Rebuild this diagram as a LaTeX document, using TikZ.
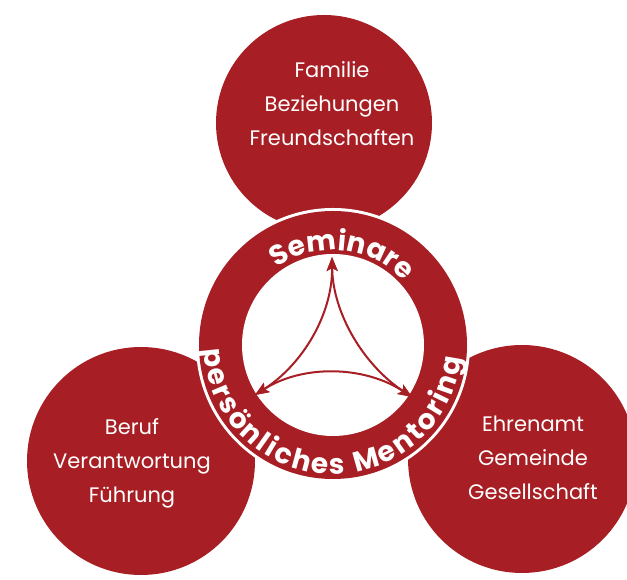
\documentclass[tikz,border=0pt]{standalone}
\usepackage{fontspec}
\setmainfont{Poppins}
\usetikzlibrary{calc,arrows.meta,decorations.text}
\definecolor{mred}{RGB}{167,31,36}
\tikzset{
  bigcirc/.style={circle, fill=mred, draw=none, inner sep=0pt},
  lbl/.style={text=white, align=center, font=\fontsize{21}{34}\selectfont},
  cur/.style={draw=mred, line width=2pt, {Stealth[length=14pt,width=11pt,inset=3pt]}-{Stealth[length=14pt,width=11pt,inset=3pt]}}
}
\newcommand{\ringfont}{\bfseries\fontsize{28}{28}\selectfont}
\begin{document}
\begin{tikzpicture}[x=1pt,y=1pt]
\useasboundingbox (0,0) rectangle (627,580);
% outer circles
\node[bigcirc, minimum size=216pt] (top) at (324,457) {};
\node[bigcirc, minimum size=228pt] (left) at (141,119) {};
\node[bigcirc, minimum size=228pt] (right) at (522,121) {};
% central ring
\coordinate (C) at (333,235);
\node[circle, fill=white, minimum size=274pt, inner sep=0pt] (ringb) at (C) {};
\node[circle, fill=mred, minimum size=268pt, inner sep=0pt] (ring) at (C) {};
\node[circle, fill=white, minimum size=182pt, inner sep=0pt] (inner) at (C) {};
% labels
\node[lbl] (tl) at (332,476) {Familie\\Beziehungen\\Freundschaften};
\node[lbl] (ll) at (132,117) {Beruf\\Verantwortung\\Führung};
\node[lbl] (rl) at (533,122) {Ehrenamt\\Gemeinde\\Gesellschaft};
% ring texts
\path[decorate, decoration={text along path, text={|\ringfont|Seminare|\ringfont\color{mred}|.}, text align=fit to path, text color=white}]
  ($(C)+(126:95pt)$) arc[start angle=126, end angle=47, radius=95pt];
\path[decorate, decoration={text along path, text={|\ringfont|persönliches Mentoring|\ringfont\color{mred}|.}, text align=fit to path, text color=white}]
  ($(C)+(182:129pt)$) arc[start angle=182, end angle=359, radius=129pt];
% arrows
\coordinate (T) at (332,323);
\coordinate (L) at (255,185);
\coordinate (R) at (412,183);
\draw[cur] (T) .. controls ($(T)!57pt!(C)$) and ($(L)!57pt!(C)$) .. (L);
\draw[cur] (T) .. controls ($(T)!57pt!(C)$) and ($(R)!57pt!(C)$) .. (R);
\draw[cur] (L) .. controls ($(L)!57pt!(C)$) and ($(R)!57pt!(C)$) .. (R);
\end{tikzpicture}
\end{document}
